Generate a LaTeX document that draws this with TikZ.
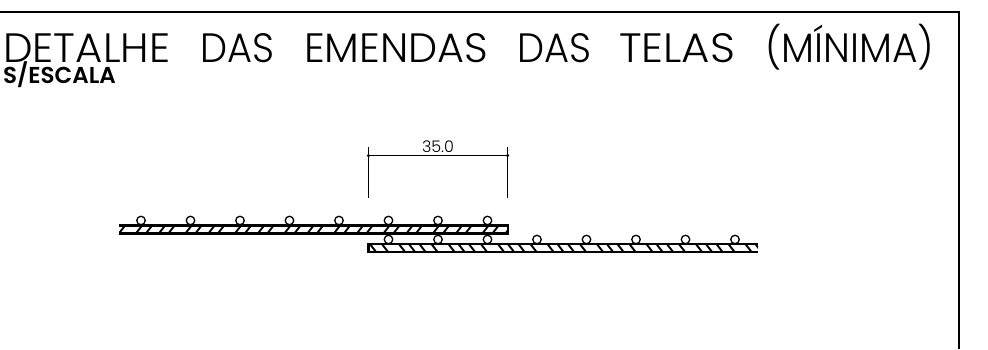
\documentclass[tikz,border=0pt]{standalone}
\usepackage{fontspec}
\setmainfont{Poppins Light}
\newfontfamily\boldf{Poppins SemiBold}
\newcommand{\ttl}[2]{\resizebox{#1pt}{\height}{#2}}
\begin{document}
\begin{tikzpicture}[x=1pt,y=-1pt,
  frameline/.style={line width=1.5pt,black},
  barline/.style={line width=2.6pt,black},
  hatchline/.style={line width=1.9pt,black},
  wire/.style={circle,draw=black,line width=1.3pt,fill=white,minimum size=8.5pt,inner sep=0pt},
  dimline/.style={line width=1pt,black},
  dimdot/.style={circle,fill=black,minimum size=3.5pt,inner sep=0pt},
  title/.style={anchor=base west,inner sep=0pt,font=\fontsize{41}{42}\selectfont},
  sub/.style={anchor=base west,inner sep=0pt,font=\boldf\fontsize{23}{24}\selectfont},
  dimtext/.style={anchor=base,inner sep=0pt,font=\fontsize{16}{17}\selectfont}]
\useasboundingbox (0,0) rectangle (988,349);
% frame
\coordinate (f1) at (0,12); \coordinate (f2) at (959,12); \coordinate (f3) at (959,349);
\draw[frameline] (f1) -- (f2) -- (f3);
% titles
\node[title] (t1) at (3,62.5) {\ttl{167}{DETALHE}};
\node[title] (t2) at (200,62.5) {\ttl{74}{DAS}};
\node[title] (t3) at (304,62.5) {\ttl{184}{EMENDAS}};
\node[title] (t4) at (517,62.5) {\ttl{74}{DAS}};
\node[title] (t5) at (619,62.5) {\ttl{116}{TELAS}};
\node[title] (t6) at (765,62.5) {\ttl{169}{(MÍNIMA)}};
\node[sub] (t7) at (3,83.5) {S/ESCALA};
% dimension
\coordinate (d1a) at (368.5,147); \coordinate (d1b) at (368.5,198);
\coordinate (d2a) at (507.5,147); \coordinate (d2b) at (507.5,198);
\node[dimdot] (e1) at (368.5,155.5) {};
\node[dimdot] (e2) at (507.5,155.5) {};
\draw[dimline] (d1a) -- (d1b);
\draw[dimline] (d2a) -- (d2b);
\draw[dimline] (e1) -- (e2);
\node[dimtext] (dt) at (438,152) {35.0};
% wires
\foreach \x in {141,190.5,240,289.5,339,388.5,438,487.5}
  \node[wire] at (\x,220.5) {};
\foreach \x in {388.5,438,487.5,537,586.5,636,685.5,735}
  \node[wire] at (\x,239.5) {};
% upper bar
\begin{scope}
\clip (119,225) rectangle (508,234);
\fill[white] (119,225) rectangle (508,234);
\foreach \x in {119,168.5,218,267.5,317,366.5,416,465.5}{
  \foreach \o in {3,20,30,43}{
    \pgfmathsetmacro\xa{\x+\o-3.5}
    \draw[hatchline] (\xa,234) -- ++(7,-9);
  }
}
\end{scope}
\draw[barline] (119,225.5) -- (508,225.5) -- (508,233.5) -- (119,233.5);
% lower bar
\begin{scope}
\clip (368,243.5) rectangle (758,252);
\fill[white] (368,243.5) rectangle (758,252);
\foreach \x in {368,417.5,467,516.5,566,615.5,665,714.5}{
  \foreach \o in {5,17,34,44}{
    \pgfmathsetmacro\xa{\x+\o-3.5}
    \draw[hatchline] (\xa,243.5) -- ++(7,9);
  }
}
\end{scope}
\draw[barline] (758,243.8) -- (368.5,243.8) -- (368.5,252) -- (758,252);
\end{tikzpicture}
\end{document}
